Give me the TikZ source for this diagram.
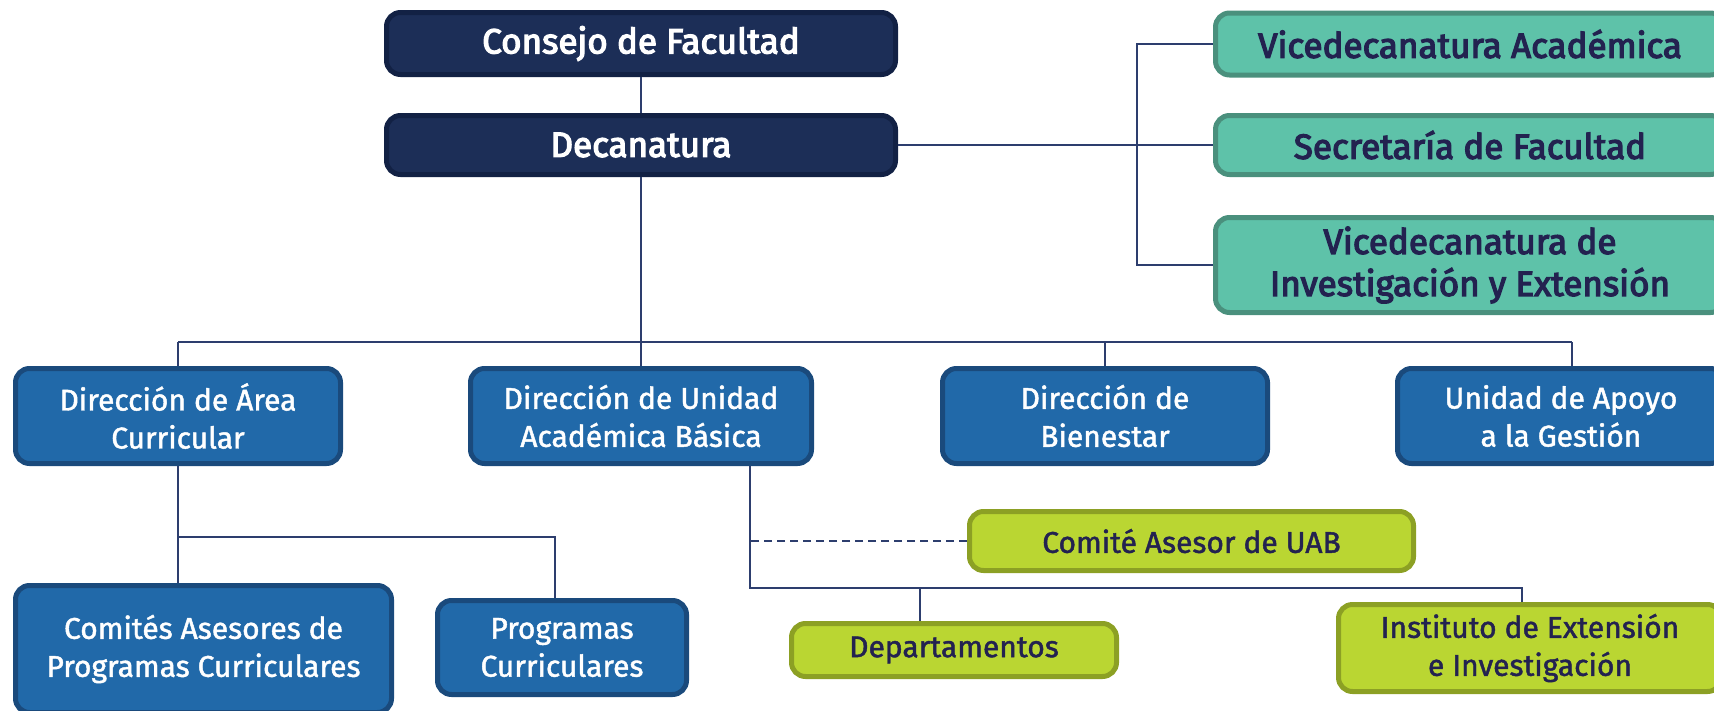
\documentclass[tikz,border=0pt]{standalone}
\usepackage{fontspec}
\setmainfont{Fira Sans}
\newfontfamily\topfont[FakeBold=3.5]{Fira Sans}
\newfontfamily\lowfont[FakeBold=1.5]{Fira Sans}
\definecolor{navyF}{HTML}{1C2E57}
\definecolor{navyD}{HTML}{122144}
\definecolor{tealF}{HTML}{5EC2A9}
\definecolor{tealD}{HTML}{4A907D}
\definecolor{blueF}{HTML}{2169A9}
\definecolor{blueD}{HTML}{1A4A7C}
\definecolor{limeF}{HTML}{BAD632}
\definecolor{limeD}{HTML}{8CA024}
\definecolor{txtD}{HTML}{232250}
\definecolor{lineC}{HTML}{2D3E6E}
\tikzset{
  box/.style={rounded corners=14pt, line width=5pt, align=center, inner sep=0pt, anchor=center},
  navybox/.style={box, fill=navyF, draw=navyD, text=white, font=\topfont\fontsize{35}{42}\selectfont},
  tealbox/.style={box, fill=tealF, draw=tealD, text=txtD, font=\topfont\fontsize{35}{42}\selectfont},
  bluebox/.style={box, fill=blueF, draw=blueD, text=white, font=\lowfont\fontsize{30}{38}\selectfont},
  limebox/.style={box, fill=limeF, draw=limeD, text=txtD, font=\lowfont\fontsize{30}{38}\selectfont},
  conn/.style={draw=lineC, line width=2pt},
  dashconn/.style={conn, dash pattern=on 8pt off 5pt},
}
\begin{document}
\begin{tikzpicture}[x=1pt,y=-1pt]
\useasboundingbox (0,0) rectangle (1714,710);
% top
\node[navybox, minimum width=509pt, minimum height=62pt] (cf) at (641,43.5) {Consejo de Facultad};
\node[navybox, minimum width=509pt, minimum height=59pt] (dec) at (641,145) {Decanatura};
\node[tealbox, minimum width=509pt, minimum height=62pt] (va) at (1470,44) {Vicedecanatura Académica};
\node[tealbox, minimum width=509pt, minimum height=59pt] (sf) at (1470,145) {Secretaría de Facultad};
\node[tealbox, minimum width=509pt, minimum height=95pt] (vi) at (1470,265) {Vicedecanatura de\\Investigación y Extensión};
% level 2
\node[bluebox, minimum width=325pt, minimum height=95pt] (dac) at (178,416) {Dirección de Área\\Curricular};
\node[bluebox, minimum width=341pt, minimum height=95pt] (duab) at (641,416) {Dirección de Unidad\\Académica Básica};
\node[bluebox, minimum width=325pt, minimum height=95pt] (db) at (1105,416) {Dirección de\\Bienestar};
\node[bluebox, minimum width=327pt, minimum height=95pt] (uag) at (1561,416) {Unidad de Apoyo\\a la Gestión};
% level 3
\node[bluebox, minimum width=376pt, minimum height=127pt] (cap) at (203.5,649) {Comités Asesores de\\Programas Curriculares};
\node[bluebox, minimum width=249pt, minimum height=94pt] (pc) at (562,647.5) {Programas\\Curriculares};
\node[limebox, minimum width=444pt, minimum height=59pt] (cuab) at (1191.5,541) {Comité Asesor de UAB};
\node[limebox, minimum width=325pt, minimum height=53pt] (dep) at (954,650) {Departamentos};
\node[limebox, minimum width=383pt, minimum height=87pt] (iei) at (1530,648) {Instituto de Extensión\\e Investigación};
% coordinates
\coordinate (h1) at (178,342);
\coordinate (h4) at (1572,342);
\coordinate (bx) at (1137,0);
\coordinate (b1) at (178,537);
\coordinate (b2) at (555,537);
\coordinate (u1) at (750,588);
\coordinate (u2) at (920,588);
\coordinate (u3) at (1522,588);
% connectors
\draw[conn] (cf.south) -- (dec.north);
\draw[conn] (dec.east) -- (sf.west);
\draw[conn] (va.west) -- (va.west -| bx) -- (vi.west -| bx) -- (vi.west);
\draw[conn] (dec.south) -- (dec.south |- h1);
\draw[conn] (h1) -- (h4);
\draw[conn] (h1) -- (dac.north);
\draw[conn] (duab.north) -- (duab.north |- h1);
\draw[conn] (db.north) -- (db.north |- h1);
\draw[conn] (h4) -- (h4 |- uag.north);
\draw[conn] (dac.south) -- (dac.south |- cap.north);
\draw[conn] (b1) -- (b2) -- (b2 |- pc.north);
\draw[conn] (u1 |- duab.south) -- (u1) -- (u3) -- (u3 |- iei.north);
\draw[conn] (u2) -- (u2 |- dep.north);
\draw[dashconn] (cuab.west) -- (cuab.west -| u1);
\end{tikzpicture}
\end{document}
